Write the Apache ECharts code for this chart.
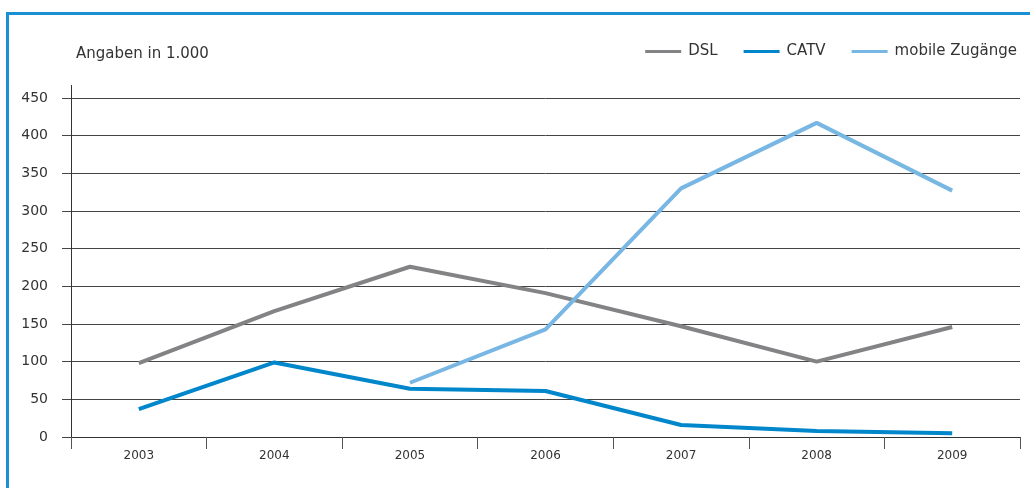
<!DOCTYPE html>
<html>
<head>
<meta charset="utf-8">
<script src="https://cdn.jsdelivr.net/npm/echarts@6/dist/echarts.min.js"></script>
<style>
html,body{margin:0;padding:0;background:#fff;}
#frame{position:absolute;left:6px;top:12px;width:1024px;height:476px;border-left:3px solid #1a8fd3;border-top:3px solid #1a8fd3;box-sizing:border-box;}
#c{position:absolute;left:0;top:0;width:1030px;height:488px;}
</style>
</head>
<body>
<div id="frame"></div>
<div id="c"></div>
<script>
const years = ['2003','2004','2005','2006','2007','2008','2009'];
const dsl = [98, 167, 226, 191, 147, 100, 146];
const catv = [37, 99, 64, 61, 16, 8, 5];
const mobile = [null, null, 72, 143, 330, 417, 327];
const yTicks = [0, 50, 100, 150, 200, 250, 300, 350, 400, 450];

const font = 'DejaVu Sans, Verdana, sans-serif';
const chart = echarts.init(document.getElementById('c'), null, {renderer: 'canvas'});
chart.setOption({
  animation: false,
  backgroundColor: 'transparent',
  title: {
    text: 'Angaben in 1.000',
    left: 76, top: 47, padding: 0,
    textStyle: {fontFamily: font, fontSize: 15, fontWeight: 'normal', color: '#333'}
  },
  legend: {
    right: 13, top: 44, padding: 0,
    itemWidth: 36, itemHeight: 3, itemGap: 26,
    icon: 'rect',
    textStyle: {fontFamily: font, fontSize: 15, color: '#333', padding: [0, 0, 0, 2]},
    data: ['DSL', 'CATV', 'mobile Zugänge']
  },
  grid: {left: 71, right: 10, top: 98, bottom: 51, containLabel: false},
  xAxis: {
    type: 'category',
    data: years,
    boundaryGap: true,
    axisLine: {lineStyle: {color: '#333', width: 1}},
    axisTick: {show: true, length: 12, lineStyle: {color: '#555'}},
    axisLabel: {fontFamily: font, fontSize: 12, color: '#333', margin: 13}
  },
  yAxis: {
    type: 'value',
    min: yTicks[0], max: yTicks[yTicks.length - 1], interval: 50,
    axisLine: {show: true, lineStyle: {color: '#333', width: 1}},
    axisTick: {show: true, length: 9, lineStyle: {color: '#444'}},
    axisLabel: {fontFamily: font, fontSize: 14, color: '#333', margin: 23},
    splitLine: {lineStyle: {color: '#444', width: 1}}
  },
  graphic: [{
    type: 'line', shape: {x1: 71.5, y1: 85, x2: 71.5, y2: 98},
    style: {stroke: '#333', lineWidth: 1}
  }],
  series: [
    {name: 'DSL', type: 'line', data: dsl, symbol: 'none', lineStyle: {color: '#838386', width: 4}, itemStyle: {color: '#838386'}},
    {name: 'CATV', type: 'line', data: catv, symbol: 'none', lineStyle: {color: '#0086ca', width: 4}, itemStyle: {color: '#0086ca'}},
    {name: 'mobile Zugänge', type: 'line', data: mobile, symbol: 'none', lineStyle: {color: '#78b6e4', width: 4}, itemStyle: {color: '#78b6e4'}}
  ]
});
</script>
</body>
</html>
